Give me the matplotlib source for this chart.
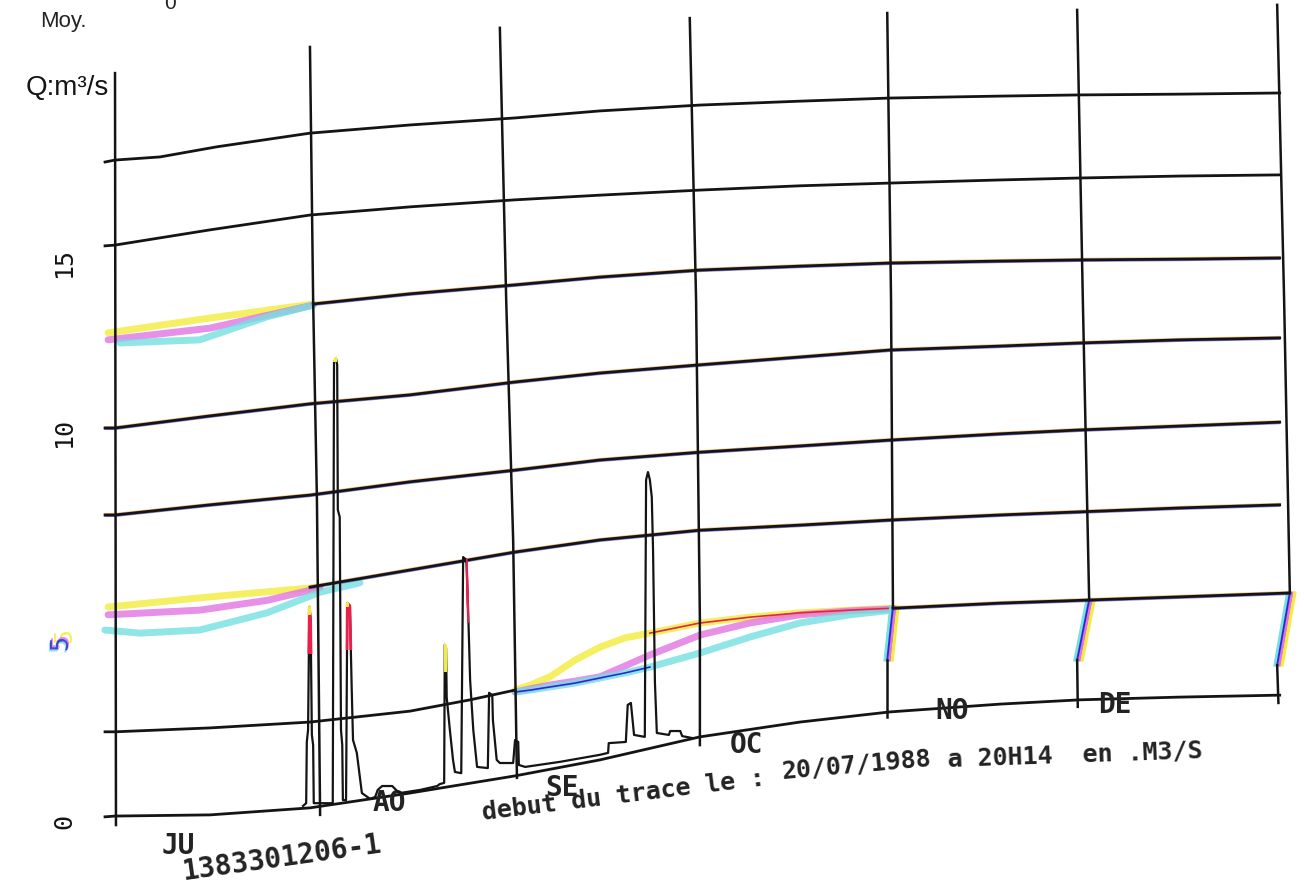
import numpy as np
import matplotlib.pyplot as plt

# days counted from 1 July, discharge Q in m3/s as read on the sheet
month_labels = ['JU', 'AO', 'SE', 'OC', 'NO', 'DE']
month_label_day = [10.0, 43.4, 70.6, 99.7, 132.2, 157.9]
month_label_q = [-0.72, 0.38, 0.77, 1.87, 2.74, 2.90]

ytick_labels = ['0', '10', '15']
ytick_q = [-0.1, 9.9, 14.26]

# month boundary lines (slightly warped on the scan)
vlines_day = [
    [0.0, 0.15],
    [30.8, 31.3, 31.9, 32.4],
    [60.8, 61.8, 62.9, 63.5],
    [90.8, 91.8, 92.4, 92.4],
    [122.0, 122.6, 122.9, 122.0, 122.0],
    [152.0, 152.9, 153.9, 152.0, 152.1],
    [183.6, 184.7, 185.6, 183.6, 183.8],
]
vlines_q = [
    [19.10, -0.18],
    [19.77, 13.28, 8.15, 0.08],
    [20.26, 13.28, 7.13, 1.03],
    [20.51, 13.28, 5.08, 1.87],
    [20.64, 13.28, 5.41, 4.05, 2.59],
    [20.72, 13.28, 5.59, 4.05, 2.85],
    [20.85, 13.28, 5.77, 3.92, 2.95],
]

# black curves
grid_day = [-1.58, 0, 15.0, 30.8, 46.6, 63.2, 76.6, 92.4, 108.2, 122.4, 139.8, 152.4, 168.2, 184.0]
c0_q = [0.03, 0.05, 0.08, 0.26, 0.64, 1.08, 1.49, 2.08, 2.46, 2.72, 2.92, 3.03, 3.10, 3.15]
c3_q = [7.77, 7.77, 8.03, 8.28, 8.62, 8.92, 9.18, 9.38, 9.54, 9.69, 9.85, 9.95, 10.05, 10.15]
c4_q = [10.0, 10.0, 10.31, 10.62, 10.85, 11.18, 11.41, 11.62, 11.82, 12.0, 12.10, 12.18, 12.26, 12.31]
c6_q = [14.67, 14.69, 15.08, 15.46, 15.67, 15.85, 15.97, 16.10, 16.21, 16.28, 16.36, 16.41, 16.46, 16.49]
c7_day = [-1.58, 0, 7.1, 16.1, 30.8, 46.6, 63.2, 76.6, 92.4, 108.2, 122.4, 139.8, 152.4, 168.2, 184.0]
c7_q = [16.82, 16.87, 16.95, 17.21, 17.56, 17.77, 17.95, 18.13, 18.28, 18.38, 18.46, 18.51, 18.54, 18.56, 18.59]

c1_day = [-1.58, 0, 15.0, 30.8, 46.6, 56.1, 63.2]
c1_q = [2.21, 2.21, 2.31, 2.46, 2.74, 3.03, 3.28]
c1b_day = [122.9, 139.8, 154.0, 168.2, 185.6]
c1b_q = [5.38, 5.51, 5.59, 5.67, 5.77]
c2_day = [30.8, 46.6, 63.2, 76.6, 92.4, 108.2, 122.4, 139.8, 152.4, 168.2, 184.0]
c2_q = [5.92, 6.36, 6.82, 7.13, 7.38, 7.51, 7.64, 7.77, 7.85, 7.95, 8.03]
c5_day = [31.3, 46.6, 63.2, 76.6, 92.4, 108.2, 122.4, 139.8, 152.4, 168.2, 184.0]
c5_q = [13.18, 13.44, 13.67, 13.87, 14.05, 14.15, 14.23, 14.28, 14.31, 14.33, 14.36]

# colour plotter pens (misregistered)
band1_day = [63.2, 65.6, 68.7, 72.7, 76.6, 80.6, 84.5, 92.4, 100.3, 108.2, 116.1, 122.9]
band1_yellow = [3.28, 3.41, 3.62, 4.05, 4.38, 4.62, 4.74, 5.0, 5.15, 5.26, 5.33, 5.38]
band1_magenta = [3.23, 3.31, 3.41, 3.51, 3.62, 3.90, 4.18, 4.69, 5.0, 5.21, 5.31, 5.36]
band1_cyan = [3.23, 3.28, 3.36, 3.46, 3.59, 3.72, 3.87, 4.23, 4.64, 5.0, 5.21, 5.33]

band2_yellow_day = [-1.1, 15.0, 32.4]
band2_yellow = [5.41, 5.67, 5.92]
band2_magenta_day = [-1.1, 13.4, 24.0, 32.4]
band2_magenta = [5.21, 5.33, 5.58, 5.90]
band2_cyan_day = [-1.6, 3.95, 13.4, 24.0, 32.4, 38.7]
band2_cyan = [4.82, 4.74, 4.82, 5.26, 5.79, 6.03]

band5_yellow_day = [-1.1, 15.0, 31.3]
band5_yellow = [12.44, 12.82, 13.18]
band5_magenta_day = [-1.1, 15.0, 31.3]
band5_magenta = [12.26, 12.56, 13.15]
band5_cyan_day = [0.8, 13.4, 24.0, 31.3]
band5_cyan = [12.18, 12.26, 12.85, 13.15]

# recorded hydrograph from 20/07/1988
hydro_day = [29.7, 30.2, 30.3, 30.5, 30.7, 30.9, 31.1, 31.3, 31.4,
             34.4, 34.6, 34.9, 35.1, 35.2, 35.5, 35.7, 35.9, 36.0,
             36.5, 36.7, 37.1, 37.4, 37.6, 38.2, 39.0, 40.3,
             41.1, 41.5, 42.2, 43.8, 44.4, 45.0, 48.2, 50.9, 51.3, 52.0,
             52.1, 52.3, 52.4, 52.9, 53.4, 53.7, 54.7,
             55.0, 55.5, 55.8, 56.1, 56.6, 57.2, 58.9,
             59.1, 59.6, 59.7, 60.3, 60.8, 62.9, 63.2, 63.7, 63.8, 64.8,
             70.3, 76.6, 77.9, 78.0, 80.7, 81.0, 81.5, 82.0, 83.7,
             83.9, 84.2, 84.5, 84.8, 85.0, 85.3, 85.6, 87.5, 87.7, 89.3, 89.6, 91.2]
hydro_q = [0.31, 0.38, 1.95, 2.26, 5.41, 5.08, 2.13, 1.87, 0.38,
           0.38, 11.69, 11.79, 11.62, 7.90, 7.72, 2.26, 1.87, 0.46,
           0.46, 5.51, 5.44, 3.28, 2.0, 1.67, 0.64, 0.49,
           0.54, 0.72, 0.82, 0.82, 0.72, 0.64, 0.72, 0.82, 0.87, 0.90,
           4.44, 4.36, 3.10, 2.26, 1.49, 1.18, 1.15,
           6.69, 6.62, 5.26, 3.54, 2.26, 1.31, 1.28,
           3.21, 3.15, 2.51, 1.49, 1.41, 1.41, 2.0, 1.95, 1.36, 1.31,
           1.44, 1.62, 1.67, 1.92, 1.95, 2.90, 2.95, 2.13, 2.08,
           8.67, 8.87, 8.67, 8.23, 6.87, 3.46, 2.18, 2.13, 2.23, 2.23, 2.10, 2.05]

YEL = '#f2ec3c'
MAG = '#e274e2'
CYA = '#74e0e0'
RED = '#e8204a'
BLU = '#2a2ad0'
ORA = '#ee8a2e'
INK = '#141414'
TXT = '#232323'

fig = plt.figure(figsize=(13.04, 8.9), dpi=100)
ax = fig.add_axes([0, 0, 1, 1])
ax.set_xlim(-18.17, 187.84)
ax.set_ylim(-1.846, 20.974)
ax.axis('off')

# colour bands first so black lines go over them
bands = [(band1_day, band1_yellow, YEL), (band1_day, band1_magenta, MAG), (band1_day, band1_cyan, CYA),
         (band2_yellow_day, band2_yellow, YEL), (band2_magenta_day, band2_magenta, MAG),
         (band2_cyan_day, band2_cyan, CYA),
         (band5_yellow_day, band5_yellow, YEL), (band5_magenta_day, band5_magenta, MAG),
         (band5_cyan_day, band5_cyan, CYA)]
for days, vals, col in bands:
    ax.plot(days, vals, color=col, lw=5, alpha=0.8, solid_capstyle='round', zorder=1)
ax.plot(band1_day[:7], band1_cyan[:7], color=BLU, lw=1.2, zorder=2)
ax.plot(band1_day[6:], band1_yellow[6:], color=RED, lw=1.2, zorder=2)

# colour fringe on the month lines where they bend
for days, vals in zip(vlines_day[4:], vlines_q[4:]):
    seg_d = np.array(days[2:4])
    seg_q = np.array(vals[2:4])
    ax.plot(seg_d - 0.35, seg_q, color=CYA, lw=2.2, zorder=2)
    ax.plot(seg_d + 0.35, seg_q, color=MAG, lw=2.2, zorder=2)
    ax.plot(seg_d + 0.8, seg_q, color=YEL, lw=2.2, zorder=2)
    ax.plot(seg_d, seg_q, color=BLU, lw=1.4, zorder=3)

# faint orange / blue fringes along the middle curves
for days, vals in [(c1b_day, c1b_q), (c2_day, c2_q), (grid_day, c3_q), (grid_day, c4_q), (c5_day, c5_q)]:
    v = np.array(vals)
    ax.plot(days, v + 0.035, color=ORA, lw=1.0, alpha=0.6, zorder=2)
    ax.plot(days, v - 0.035, color=BLU, lw=1.0, alpha=0.6, zorder=2)

curves = [(grid_day, c0_q), (c1_day, c1_q), (c1b_day, c1b_q), (c2_day, c2_q), (grid_day, c3_q),
          (grid_day, c4_q), (c5_day, c5_q), (grid_day, c6_q), (c7_day, c7_q)]
for days, vals in curves:
    ax.plot(days, vals, color=INK, lw=2.0, zorder=3)

for i, (days, vals) in enumerate(zip(vlines_day, vlines_q)):
    d = np.array(days)
    q = np.array(vals)
    if i >= 4:
        ax.plot(d[:3], q[:3], color=INK, lw=1.8, zorder=3)
        ax.plot(d[3:], q[3:], color=INK, lw=1.8, zorder=3)
    else:
        ax.plot(d, q, color=INK, lw=1.8, zorder=3)

# hydrograph, with red / yellow pen tips on some peaks
ax.plot(hydro_day, hydro_q, color=INK, lw=1.6, zorder=4)
tips = [(29.9, 31.6, 4.2, RED), (36.4, 37.6, 4.3, RED), (55.5, 56.0, 5.0, RED),
        (30.3, 31.0, 5.2, YEL), (36.5, 37.0, 5.4, YEL), (34.4, 35.0, 11.7, YEL),
        (51.9, 52.5, 3.75, YEL)]
for d0, d1, q0, col in tips:
    ln, = ax.plot(hydro_day, hydro_q, color=col, lw=2.0, zorder=5)
    ln.set_clip_path(plt.Rectangle((d0, q0), d1 - d0, 15, transform=ax.transData))

# texts
ax.text(-8.2, 20.43, 'Moy.', fontsize=16, family='Liberation Sans', ha='center', va='center', color=TXT)
ax.text(8.7, 20.88, '0', fontsize=15, family='Liberation Sans', ha='center', va='center', color=TXT)
ax.text(-7.5, 18.72, 'Q:m³/s', fontsize=20, family='Liberation Sans', ha='center', va='center', color=INK)

for lab, q in zip(ytick_labels, ytick_q):
    ax.text(-8.0, q, lab, fontsize=18, family='DejaVu Sans Mono', rotation=90,
            ha='center', va='center', color=INK)
for dx, dq, col in [(0.45, 0.12, YEL), (0.0, 0.0, MAG), (-0.35, -0.1, CYA), (-0.15, -0.05, BLU)]:
    ax.text(-8.5 + dx, 4.56 + dq, '5', fontsize=18, family='DejaVu Sans Mono', rotation=90,
            ha='center', va='center', color=col, alpha=0.85)

for lab, d, q in zip(month_labels, month_label_day, month_label_q):
    ax.text(d, q, lab, fontsize=20, family='DejaVu Sans Mono', weight='bold',
            ha='center', va='center', color=TXT)

ax.text(26.4, -1.04, '1383301206-1', fontsize=20, family='DejaVu Sans Mono', weight='bold',
        rotation=8, ha='center', va='center', color=TXT, rotation_mode='anchor')
ax.text(58.1, -0.05, 'debut du trace le :', fontsize=18, family='DejaVu Sans Mono',
        weight='bold', rotation=7, ha='left', va='baseline', rotation_mode='anchor', color=TXT)
ax.text(105.4, 1.0, '20/07/1988', fontsize=18, family='DejaVu Sans Mono',
        weight='bold', rotation=5, ha='left', va='baseline', rotation_mode='anchor', color=TXT)
ax.text(131.6, 1.33, 'a 20H14  en .M3/S', fontsize=18, family='DejaVu Sans Mono',
        weight='bold', rotation=2, ha='left', va='baseline', rotation_mode='anchor', color=TXT)

fig.savefig('out.png', dpi=100, facecolor='white')
